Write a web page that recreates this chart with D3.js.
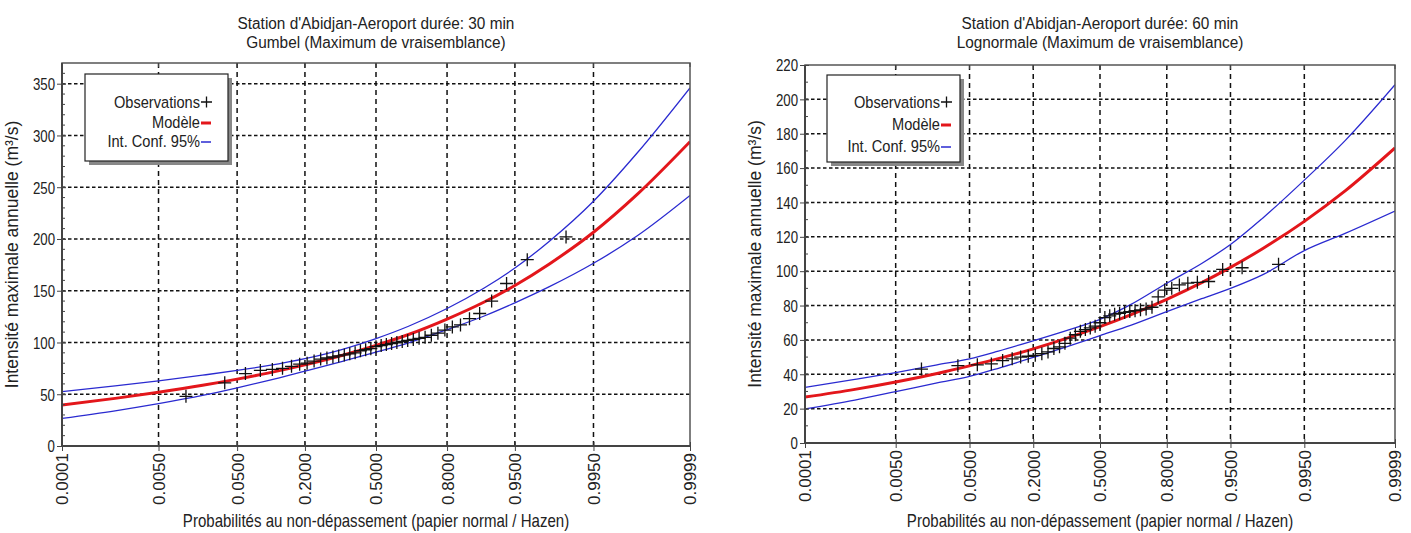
<!DOCTYPE html>
<html><head><meta charset="utf-8">
<script src="https://cdn.jsdelivr.net/npm/d3@7"></script>
<style>
body{margin:0;background:#fff;}
svg{display:block;}
text{font-family:"Liberation Sans",Arial,sans-serif;fill:#222;}
</style></head>
<body><svg id="c" width="1411" height="533"></svg>
<script>
// ---------- data ----------
const probTicks = [0.0001, 0.005, 0.05, 0.2, 0.5, 0.8, 0.95, 0.995, 0.9999];
const probTickLabels = ["0.0001","0.0050","0.0500","0.2000","0.5000","0.8000","0.9500","0.9950","0.9999"];
const curveProbs = [0.0001,0.001,0.005,0.02,0.05,0.1,0.2,0.35,0.5,0.65,0.8,0.9,0.95,0.98,0.995,0.999,0.9999];
// Hazen plotting positions of the 41 observations
const obsProbs = [0.0122,0.0366,0.0610,0.0854,0.1098,0.1341,0.1585,0.1829,0.2073,0.2317,0.2561,0.2805,0.3049,0.3293,0.3537,0.3780,0.4024,0.4268,0.4512,0.4756,0.5000,0.5244,0.5488,0.5732,0.5976,0.6220,0.6463,0.6707,0.6951,0.7195,0.7439,0.7683,0.7927,0.8171,0.8415,0.8659,0.8902,0.9146,0.9390,0.9634,0.9878];

// chart 1 : 30 min, Gumbel
const title30 = ["Station d'Abidjan-Aeroport durée: 30 min", "Gumbel (Maximum de vraisemblance)"];
const yTicks30 = [0,50,100,150,200,250,300,350];
const model30 = [39.6,46.0,51.9,58.6,64.6,70.4,78.4,87.9,97.2,107.7,122.6,139.1,155.1,175.9,206.5,242.8,294.0];
const upper30 = [52.6,58.0,62.9,68.4,73.0,77.6,84.4,93.7,103.8,115.7,132.8,152.6,171.9,197.9,236.5,282.8,346.0];
const lower30 = [26.6,34.0,40.9,48.8,56.2,63.2,72.4,82.1,90.6,99.7,112.4,125.6,138.3,153.9,176.5,202.8,242.0];
const obs30 = [48,61,70,73,74,75,77,79,80,82,84,85,86,87,88,89,90,92,93,94,96,97,98,99,100,101,102,103,104,105,107,109,112,115,117,123,128,140,157,180,202];

// chart 2 : 60 min, Lognormale
const title60 = ["Station d'Abidjan-Aeroport durée: 60 min", "Lognormale (Maximum de vraisemblance)"];
const yTicks60 = [0,20,40,60,80,100,120,140,160,180,200,220];
const model60 = [26.7,31.2,35.5,40.5,44.9,49.1,54.8,61.5,67.7,74.6,83.6,93.3,102.2,113.2,129.0,146.7,171.7];
const upper60 = [32.4,37.0,41.0,45.5,49.0,53.5,59.5,66.0,72.0,80.5,93.0,104.5,115.5,131.0,153.0,176.0,208.5];
const lower60 = [19.8,25.0,29.9,35.0,38.8,43.5,49.8,56.5,62.5,68.5,76.5,84.0,90.0,98.0,112.0,122.0,135.0];
const obs60 = [43,45,45.5,46,48,49,50,50.5,51,52,53,55,56,58,61,63,65,66,67,68,70,73,74,75,75.5,76,76.5,77,77.5,78,79,85,89,90,92,93,93.5,94,101,102,104];

const yTitle = "Intensité maximale annuelle (m³/s)";
const xTitle = "Probabilités au non-dépassement (papier normal / Hazen)";
const legendLabels = ["Observations", "Modèle", "Int. Conf. 95%"];

// ---------- normal probability paper transform ----------
function probit(p){
  const a=[-3.969683028665376e+01,2.209460984245205e+02,-2.759285104469687e+02,1.383577518672690e+02,-3.066479806614716e+01,2.506628277459239e+00];
  const b=[-5.447609879822406e+01,1.615858368580409e+02,-1.556989798598866e+02,6.680131188771972e+01,-1.328068155288572e+01];
  const c=[-7.784894002430293e-03,-3.223964580411365e-01,-2.400758277161838e+00,-2.549732539343734e+00,4.374664141464968e+00,2.938163982698783e+00];
  const d=[7.784695709041462e-03,3.224671290700398e-01,2.445134137142996e+00,3.754408665190110e+00];
  const pl=0.02425, ph=1-pl; let q,r;
  if(p<pl){q=Math.sqrt(-2*Math.log(p));return (((((c[0]*q+c[1])*q+c[2])*q+c[3])*q+c[4])*q+c[5])/((((d[0]*q+d[1])*q+d[2])*q+d[3])*q+1);}
  if(p<=ph){q=p-0.5;r=q*q;return (((((a[0]*r+a[1])*r+a[2])*r+a[3])*r+a[4])*r+a[5])*q/(((((b[0]*r+b[1])*r+b[2])*r+b[3])*r+b[4])*r+1);}
  q=Math.sqrt(-2*Math.log(1-p));return -(((((c[0]*q+c[1])*q+c[2])*q+c[3])*q+c[4])*q+c[5])/((((d[0]*q+d[1])*q+d[2])*q+d[3])*q+1);
}

const svg = d3.select("#c");
svg.append("rect").attr("width",1411).attr("height",533).attr("fill","#fff");

// condensed text (narrow, tall glyphs as in the original)
function ctext(g, x, y, str, size, anchor, sx){
  return g.append("text").attr("transform",`translate(${x},${y}) scale(${sx||0.86},1)`)
    .attr("text-anchor",anchor||"middle").attr("font-size",size).text(str);
}

function drawChart(cfg){
  const {x0,x1,y0,y1,yMax,yTicks,yMinor,titles,model,upper,lower,obs,legend} = cfg;
  const g = svg.append("g");
  const zs = d3.scaleLinear().domain([probit(0.0001), probit(0.9999)]).range([x0,x1]);
  const X = p => zs(probit(p));
  const Y = d3.scaleLinear().domain([0,yMax]).range([y1,y0]);

  // grid
  g.append("g").selectAll("line").data(yTicks.filter(v=>v>0 && v<yMax)).join("line")
    .attr("x1",x0).attr("x2",x1).attr("y1",d=>Y(d)).attr("y2",d=>Y(d))
    .attr("stroke","#111").attr("stroke-width",1.5).attr("stroke-dasharray","3.5,2.5");
  g.append("g").selectAll("line").data(probTicks.slice(1,-1)).join("line")
    .attr("x1",d=>X(d)).attr("x2",d=>X(d)).attr("y1",y0).attr("y2",y1)
    .attr("stroke","#111").attr("stroke-width",1.5).attr("stroke-dasharray","5,4");

  // curves
  const line = arr => d3.line().curve(d3.curveMonotoneX)
      .x((d,i)=>X(curveProbs[i])).y(d=>Y(d))(arr);
  const clipId = "clip"+x0;
  g.append("clipPath").attr("id",clipId).append("rect").attr("x",x0).attr("y",y0).attr("width",x1-x0).attr("height",y1-y0);
  const cg = g.append("g").attr("clip-path",`url(#${clipId})`);
  cg.append("path").attr("d",line(upper)).attr("fill","none").attr("stroke","#2a2ad0").attr("stroke-width",1.3);
  cg.append("path").attr("d",line(lower)).attr("fill","none").attr("stroke","#2a2ad0").attr("stroke-width",1.3);
  cg.append("path").attr("d",line(model)).attr("fill","none").attr("stroke","#e3161b").attr("stroke-width",3);

  // observations
  const ms = 6.5;
  cg.append("g").selectAll("path").data(obs).join("path")
    .attr("d",(d,i)=>{const x=X(obsProbs[i]), y=Y(d);return `M${x-ms},${y}H${x+ms}M${x},${y-ms}V${y+ms}`;})
    .attr("stroke","#111").attr("stroke-width",1.3).attr("fill","none");

  // frame
  g.append("rect").attr("x",x0).attr("y",y0).attr("width",x1-x0).attr("height",y1-y0)
    .attr("fill","none").attr("stroke","#555").attr("stroke-width",1.5);
  g.append("line").attr("x1",x0).attr("x2",x0).attr("y1",y0).attr("y2",y1).attr("stroke","#444").attr("stroke-width",2);
  g.append("line").attr("x1",x0).attr("x2",x1).attr("y1",y1).attr("y2",y1).attr("stroke","#444").attr("stroke-width",2);

  // y axis
  const ya = g.append("g").attr("transform",`translate(${x0},0)`)
    .call(d3.axisLeft(Y).tickValues(yTicks).tickSize(5).tickFormat(d3.format("d")));
  ya.select(".domain").remove();
  ya.selectAll("line").attr("stroke","#444").attr("x2",-5).attr("x1",4);
  ya.selectAll("text").attr("font-size",17).attr("fill","#222")
    .attr("x",0).attr("dy","0.34em").attr("transform","translate(-7,0) scale(0.78,1)");
  g.append("g").selectAll("line").data(yMinor).join("line")
    .attr("x1",x0).attr("x2",x0+3).attr("y1",d=>Y(d)).attr("y2",d=>Y(d)).attr("stroke","#444");

  // x axis
  const xa = g.append("g").attr("transform",`translate(0,${y1})`)
    .call(d3.axisBottom(zs).tickValues(probTicks.map(probit)).tickSize(5).tickFormat((d,i)=>probTickLabels[i]));
  xa.select(".domain").remove();
  xa.selectAll("line").attr("stroke","#444").attr("y1",-4).attr("y2",5);
  xa.selectAll("text").attr("font-size",17).attr("fill","#333")
    .attr("transform","rotate(-90)").attr("x",-7).attr("y",0).attr("dy","0.35em").attr("text-anchor","end");
  // top ticks
  g.append("g").selectAll("line").data(probTicks).join("line")
    .attr("x1",d=>X(d)).attr("x2",d=>X(d)).attr("y1",y0).attr("y2",y0+4).attr("stroke","#444");

  // titles
  const cx = (x0+x1)/2;
  ctext(g, cx, 29, titles[0], 16, "middle", 0.96);
  ctext(g, cx, 48, titles[1], 16, "middle", 0.96);
  ctext(g, cx, 527, xTitle, 17.5, "middle", 0.86);
  g.append("text").attr("transform",`translate(${x0-44},${(y0+y1)/2}) rotate(-90)`).attr("text-anchor","middle")
    .attr("font-size",17.5).text(yTitle);

  // legend
  const L = legend;
  g.append("rect").attr("x",L.x+4).attr("y",L.y+4).attr("width",L.w).attr("height",L.h).attr("fill","#888");
  g.append("rect").attr("x",L.x).attr("y",L.y).attr("width",L.w).attr("height",L.h).attr("fill","#fff").attr("stroke","#222").attr("stroke-width",1.2);
  legendLabels.forEach((t,i)=>{
    const ty = L.rows[i];
    ctext(g, L.tx, ty+6, t, 17, "end", 0.86);
    const sx = L.tx+1;
    if(i===0){
      g.append("path").attr("d",`M${sx},${ty}H${sx+11}M${sx+5.5},${ty-5.5}V${ty+5.5}`).attr("stroke","#111").attr("stroke-width",1.3);
    } else {
      g.append("line").attr("x1",sx).attr("x2",sx+10).attr("y1",ty+1).attr("y2",ty+1)
        .attr("stroke", i===1?"#e3161b":"#2a2ad0").attr("stroke-width", i===1?3:1.5);
    }
  });
}

drawChart({x0:62,x1:690,y0:63,y1:446,yMax:370,yTicks:yTicks30,yMinor:d3.range(10,370,10),
  titles:title30,model:model30,upper:upper30,lower:lower30,obs:obs30,
  legend:{x:85,y:74,w:143,h:87,tx:200,rows:[102,122,141]}});
drawChart({x0:805,x1:1395,y0:65,y1:443,yMax:220,yTicks:yTicks60,yMinor:d3.range(10,220,10),
  titles:title60,model:model60,upper:upper60,lower:lower60,obs:obs60,
  legend:{x:827,y:75,w:133,h:87,tx:940,rows:[102,124,146]}});
</script></body></html>
